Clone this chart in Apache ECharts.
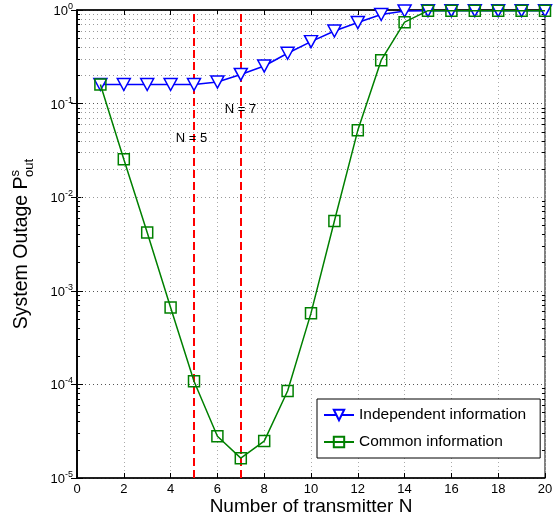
<!DOCTYPE html>
<html><head><meta charset="utf-8">
<script src="https://cdn.jsdelivr.net/npm/echarts@6/dist/echarts.min.js"></script>
<style>html,body{margin:0;padding:0;background:#fff}#c{width:560px;height:518px}</style>
</head><body><div id="c"></div>
<script>
const transmitters = [1,2,3,4,5,6,7,8,9,10,11,12,13,14,15,16,17,18,19,20];
const independentInfo = [0.16,0.16,0.16,0.16,0.16,0.17,0.205,0.252,0.345,0.459,0.597,0.735,0.895,0.976,0.983,0.983,0.983,0.983,0.983,0.983];
const commonInfo = [0.16,0.0254,0.00419,6.64e-4,1.08e-4,2.79e-5,1.63e-5,2.48e-5,8.5e-5,5.77e-4,5.57e-3,0.0518,0.291,0.741,0.983,0.983,0.983,0.983,0.983,0.983];
const markerN = [5, 7];
const markerLabels = [{text:'N = 5', x:4.89, y:0.042},{text:'N = 7', x:6.99, y:0.087}];

const minorVals = [];
for (let e = -5; e < 0; e++) for (let m = 2; m <= 9; m++) minorVals.push(m * Math.pow(10, e));

const font = 'Liberation Sans, Arial, sans-serif';
const chart = echarts.init(document.getElementById('c'));
const pair = arr => transmitters.map((n,i)=>[n, arr[i]]);

const minorTickLines = [];
minorVals.forEach(v => {
  minorTickLines.push([{coord: [0, v]}, {coord: [0.13, v]}]);
  minorTickLines.push([{coord: [19.87, v]}, {coord: [20, v]}]);
});

chart.setOption({
  animation: false,
  backgroundColor: '#fff',
  textStyle: {fontFamily: font},
  grid: {left: 77, right: 15, top: 10, bottom: 40, containLabel: false, outerBoundsMode: 'none',
    show: true, borderColor: '#000', borderWidth: 1, backgroundColor: 'transparent'},
  xAxis: [{
    type: 'value', min: 0, max: 20, interval: 2,
    axisLine: {lineStyle: {color: '#000', width: 1.5}},
    axisTick: {inside: true, length: 5, lineStyle: {color: '#000'}},
    axisLabel: {color: '#000', fontSize: 13, fontFamily: font, margin: 5},
    splitLine: {show: true, lineStyle: {color: '#aaa', type: [1,3], width: 1}},
    name: 'Number of transmitter N', nameLocation: 'middle', nameGap: 19, nameMoveOverlap: false,
    nameTextStyle: {fontSize: 19, color: '#000', fontFamily: font}
  },{
    type: 'value', min: 0, max: 20, interval: 2, position: 'top',
    axisLine: {lineStyle: {color: '#000', width: 1.5}}, axisTick: {inside: true, length: 5, lineStyle: {color: '#000'}},
    axisLabel: {show: false}, splitLine: {show: false}
  }],
  yAxis: [{
    type: 'log', logBase: 10, min: 1e-5, max: 1,
    axisLine: {show: true, lineStyle: {color: '#000', width: 1.5}},
    axisTick: {show: true, inside: true, length: 6, lineStyle: {color: '#000'}},
    axisLabel: {
      color: '#000', margin: 4,
      formatter: v => '{b|10}{s|' + Math.round(Math.log10(v)) + '}',
      rich: {
        b: {fontSize: 13, fontFamily: font, color: '#000', verticalAlign: 'bottom'},
        s: {fontSize: 9, fontFamily: font, color: '#000', verticalAlign: 'bottom', padding: [0,0,7,0]}
      }
    },
    splitLine: {show: true, lineStyle: {color: '#555', type: [1,3], width: 1}},
    name: '{b|System Outage P}{s|s}{u|out}', nameLocation: 'middle', nameGap: 45, nameRotate: 90, nameMoveOverlap: false,
    nameTextStyle: {
      rich: {
        b: {fontSize: 19.5, fontFamily: font, color: '#000', verticalAlign: 'bottom'},
        s: {fontSize: 13, fontFamily: font, color: '#000', verticalAlign: 'bottom', padding: [0,0,10,0]},
        u: {fontSize: 13, fontFamily: font, color: '#000', verticalAlign: 'bottom', padding: [0,0,-4,-7]}
      }
    }
  },{
    type: 'log', logBase: 10, min: 1e-5, max: 1, position: 'right',
    axisLine: {show: true, lineStyle: {color: '#000', width: 1.5}}, axisTick: {show: true, inside: true, length: 6, lineStyle: {color: '#000'}},
    axisLabel: {show: false}, splitLine: {show: false}
  }],
  legend: {
    orient: 'vertical', left: 317, top: 399,
    padding: [8, 14, 8, 6], itemGap: 11, itemWidth: 30, itemHeight: 13,
    backgroundColor: '#fff', borderColor: '#000', borderWidth: 1,
    textStyle: {fontSize: 15.5, color: '#000', fontFamily: font}
  },
  series: [
    {
      name: 'grid', type: 'line', data: [], silent: true,
      markLine: {
        silent: true, symbol: ['none','none'], label: {show: false},
        lineStyle: {color: '#999', type: [1,3], width: 1},
        data: minorVals.map(v => ({yAxis: v}))
      }
    },
    {
      name: 'minorTicks', type: 'line', data: [], silent: true,
      markLine: {
        silent: true, symbol: ['none','none'], label: {show: false},
        lineStyle: {color: '#000', type: 'solid', width: 1},
        data: minorTickLines
      }
    },
    {
      name: 'guides', type: 'line', data: [], silent: true, z: 3,
      markLine: {
        silent: true, symbol: ['none','none'], label: {show: false},
        lineStyle: {color: '#ff0000', type: [8,4], width: 2},
        data: markerN.map(n => ({xAxis: n}))
      },
      markPoint: {
        silent: true, symbol: 'circle', symbolSize: 1, itemStyle: {color: 'transparent'},
        label: {show: true, position: 'inside', color: '#000', fontSize: 13, fontFamily: font},
        data: markerLabels.map(m => ({coord: [m.x, m.y], value: m.text, label: {formatter: m.text}}))
      }
    },
    {
      name: 'Independent information', type: 'line', data: pair(independentInfo), z: 5,
      symbol: 'triangle', symbolRotate: 180, symbolSize: [13, 12], showAllSymbol: true,
      color: '#0000ff',
      lineStyle: {color: '#0000ff', width: 1.5},
      itemStyle: {color: '#fff', borderColor: '#0000ff', borderWidth: 1.5}
    },
    {
      name: 'Common information', type: 'line', data: pair(commonInfo), z: 6,
      symbol: 'rect', symbolSize: 11, showAllSymbol: true,
      color: '#008000',
      lineStyle: {color: '#008000', width: 1.5},
      itemStyle: {color: 'transparent', borderColor: '#008000', borderWidth: 1.5}
    }
  ]
});
chart.setOption({legend: {data: ['Independent information', 'Common information']}});
</script></body></html>
